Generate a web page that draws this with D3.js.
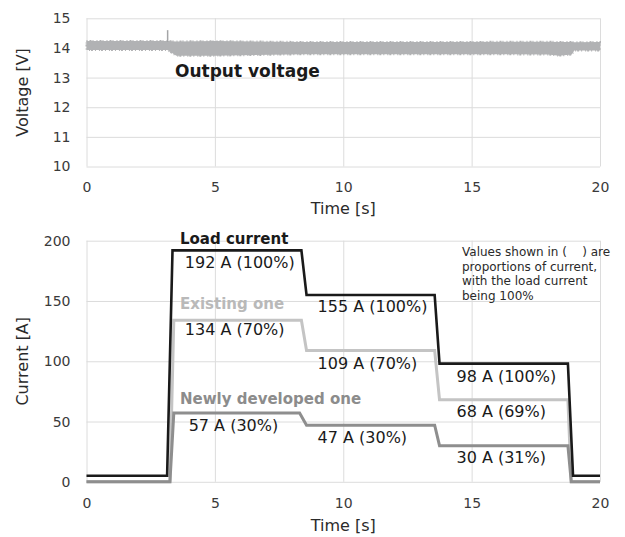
<!DOCTYPE html>
<head>
    <meta charset="utf-8">
    <script src="https://d3js.org/d3.v7.min.js"></script>
    <style>
        body { margin: 0; background: #fff; }
        text { font-family: "DejaVu Sans", Verdana, sans-serif; }
    </style>
</head>

<body>
    <div id="chart"></div>
</body>

<script>
    // ---- data ----
    const timeTicks = [0, 5, 10, 15, 20];
    const voltTicks = [10, 11, 12, 13, 14, 15];
    const currTicks = [0, 50, 100, 150, 200];

    // output voltage: noisy band, drawn as its upper / lower envelope
    const voltTime  = [0, 3.15, 3.5, 5, 8.5, 13.6, 18.0, 18.4, 18.9, 19.0, 20];
    const voltUpper = [14.23, 14.23, 14.22, 14.23, 14.2, 14.2, 14.21, 14.2, 14.2, 14.19, 14.2];
    const voltLower = [13.93, 13.93, 13.74, 13.74, 13.79, 13.79, 13.78, 13.74, 13.78, 13.91, 13.91];
    const spikeTime = 3.16;
    const spikeVolt = [14.2, 14.6];

    // currents [A]
    const loadTime  = [0, 3.14, 3.35, 8.37, 8.57, 13.56, 13.75, 18.75, 18.95, 20];
    const loadAmp   = [5, 5, 192, 192, 155, 155, 98, 98, 5, 5];
    const existTime = [0, 3.25, 3.4, 8.37, 8.57, 13.56, 13.75, 18.75, 18.88, 20];
    const existAmp  = [0, 0, 134, 134, 109, 109, 68, 68, 0, 0];
    const newTime   = [0, 3.25, 3.4, 8.3, 8.57, 13.56, 13.75, 18.75, 18.88, 20];
    const newAmp    = [0, 0, 57, 57, 47, 47, 30, 30, 0, 0];

    // value labels: [time, current at baseline, text]
    const valueLabels = [
        [3.83, 177, "192 A (100%)"],
        [3.83, 121.8, "134 A (70%)"],
        [3.98, 42.4, "57 A (30%)"],
        [9.0, 140.6, "155 A (100%)"],
        [9.0, 93.3, "109 A (70%)"],
        [9.0, 31.9, "47 A (30%)"],
        [14.41, 83, "98 A (100%)"],
        [14.41, 53.5, "68 A (69%)"],
        [14.41, 15.3, "30 A (31%)"]
    ];

    const W = 625, H = 537;
    const left = 86.5, right = 600;

    const svg = d3.select("#chart").append("svg")
        .attr("width", W)
        .attr("height", H);

    const x = d3.scaleLinear().domain([0, 20]).range([left, right]);
    const yV = d3.scaleLinear().domain([10, 15]).range([166.5, 18.3]);
    const yC = d3.scaleLinear().domain([0, 200]).range([481.8, 240.7]);

    function drawFrame(y, ticks, xLabelY, titleY, yTitle) {
        const top = y.range()[1], bottom = y.range()[0];

        // horizontal grid + y tick labels
        const gy = svg.append("g")
            .attr("transform", `translate(${left},0)`)
            .call(d3.axisLeft(y).tickValues(ticks).tickFormat(d3.format("d"))
                .tickSize(-(right - left)).tickPadding(16));
        gy.select(".domain").remove();
        gy.selectAll("line").attr("stroke", "#dcdcdc");
        gy.selectAll("text").attr("fill", "#3a3a3a").style("font-size", "14px");

        // vertical grid + x tick labels
        const gx = svg.append("g")
            .attr("transform", `translate(0,${bottom})`)
            .call(d3.axisBottom(x).tickValues(timeTicks).tickSize(-(bottom - top)).tickPadding(0));
        gx.select(".domain").remove();
        gx.selectAll("line").attr("stroke", "#dcdcdc");
        gx.selectAll("text")
            .attr("fill", "#3a3a3a")
            .style("font-size", "14px")
            .attr("dy", null)
            .attr("y", xLabelY - bottom);

        svg.append("text")
            .attr("x", (left + right) / 2)
            .attr("y", titleY)
            .attr("text-anchor", "middle")
            .attr("fill", "#2a2a2a")
            .style("font-size", "16px")
            .text("Time [s]");

        svg.append("text")
            .attr("transform", `translate(28,${(top + bottom) / 2}) rotate(-90)`)
            .attr("text-anchor", "middle")
            .attr("fill", "#2a2a2a")
            .style("font-size", "16px")
            .text(yTitle);
    }

    drawFrame(yV, voltTicks, 192, 214, "Voltage [V]");
    drawFrame(yC, currTicks, 508, 531, "Current [A]");

    // ---- voltage band ----
    const band = voltTime.map((t, i) => ({t: t, hi: voltUpper[i], lo: voltLower[i]}));
    const area = d3.area()
        .x(d => x(d.t))
        .y0(d => yV(d.lo))
        .y1(d => yV(d.hi));
    svg.append("path")
        .datum(band)
        .attr("fill", "#b1b2b4")
        .attr("d", area);
    // fuzzy edge of the noisy trace
    svg.append("path")
        .datum(band)
        .attr("fill", "none")
        .attr("stroke", "#b1b2b4")
        .attr("stroke-width", 2)
        .attr("stroke-dasharray", "1 2 2 1 1 3")
        .attr("d", area);

    svg.append("line")
        .attr("x1", x(spikeTime)).attr("x2", x(spikeTime))
        .attr("y1", yV(spikeVolt[0])).attr("y2", yV(spikeVolt[1]))
        .attr("stroke", "#a4a5a7")
        .attr("stroke-width", 1.5);

    svg.append("text")
        .attr("x", 175)
        .attr("y", 77)
        .attr("fill", "#1a1a1a")
        .style("font-size", "17px")
        .style("font-weight", "bold")
        .text("Output voltage");

    // ---- current lines ----
    const line = d3.line().x(d => x(d[0])).y(d => yC(d[1]));
    const series = [
        {t: existTime, a: existAmp, color: "#c4c4c4", w: 3},
        {t: newTime,   a: newAmp,   color: "#8e8e8e", w: 3},
        {t: loadTime,  a: loadAmp,  color: "#1a1a1a", w: 2.6}
    ];
    series.forEach(s => {
        svg.append("path")
            .datum(s.t.map((t, i) => [t, s.a[i]]))
            .attr("fill", "none")
            .attr("stroke", s.color)
            .attr("stroke-width", s.w)
            .attr("stroke-linejoin", "miter")
            .attr("d", line);
    });

    // series names
    const names = [
        ["Load current", 180, 243.5, "#1a1a1a"],
        ["Existing one", 180, 308.5, "#b9b9b9"],
        ["Newly developed one", 180, 403.5, "#8c8c8c"]
    ];
    svg.selectAll(".name")
        .data(names)
        .join("text")
        .attr("class", "name")
        .attr("x", d => d[1])
        .attr("y", d => d[2])
        .attr("fill", d => d[3])
        .style("font-size", "15px")
        .style("font-weight", "bold")
        .text(d => d[0]);

    svg.selectAll(".val")
        .data(valueLabels)
        .join("text")
        .attr("class", "val")
        .attr("x", d => x(d[0]))
        .attr("y", d => yC(d[1]))
        .attr("fill", "#1a1a1a")
        .style("font-size", "16px")
        .text(d => d[2]);

    // note
    const note = ["Values shown in (\u00a0\u00a0\u00a0\u00a0) are", "proportions of current,", "with the load current", "being 100%"];
    svg.append("text")
        .attr("fill", "#2a2a2a")
        .style("font-size", "12px")
        .selectAll("tspan")
        .data(note)
        .join("tspan")
        .attr("x", 462)
        .attr("y", (d, i) => 256 + i * 14.7)
        .text(d => d);
</script>
</html>
